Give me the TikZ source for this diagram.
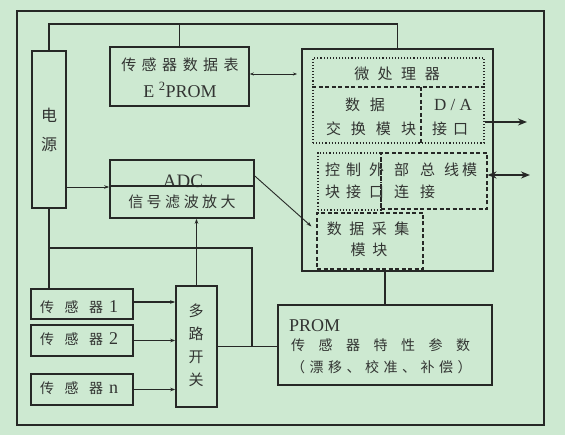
\documentclass[tikz,border=0pt]{standalone}
\usepackage{fontspec}
\setmainfont{Liberation Serif}
\newfontfamily\cjk{Noto Sans CJK SC}
\usetikzlibrary{arrows.meta,calc}
\definecolor{bg}{RGB}{205,233,209}
\definecolor{ln}{RGB}{38,40,38}
\definecolor{tx}{RGB}{50,52,50}
\newcommand\gp[1]{\hspace*{#1pt}}
\begin{document}
\begin{tikzpicture}[x=1pt,y=-1pt,
  box/.style={draw=ln,line width=1.6pt,inner sep=0pt,rectangle},
  dotbox/.style={draw=ln,line width=1.1pt,dotted,inner sep=0pt,rectangle},
  dashbox/.style={draw=ln,line width=1.1pt,dash pattern=on 4pt off 2.5pt,inner sep=0pt,rectangle},
  wire/.style={draw=ln,line width=1.5pt},
  thinwire/.style={draw=ln,line width=0.9pt},
  sarrow/.style={-{Stealth[length=5pt,width=3.5pt]}},
  barrow/.style={line width=2.6pt,-{Stealth[length=9pt,width=7pt]}},
  zh/.style={text=tx,inner sep=0pt,font=\cjk\fontsize{14}{14}\selectfont},
  en/.style={text=tx,inner sep=0pt,font=\fontsize{18}{18}\selectfont}]
\fill[bg] (0,0) rectangle (565,435);
\useasboundingbox (0,0) rectangle (565,435);
% outer frame
\draw[ln,line width=1.6pt] (17,11) rectangle (544,425);
% boxes
\node[box,minimum width=34pt,minimum height=157pt] (power) at (49,129.5) {};
\node[box,minimum width=139pt,minimum height=59pt] (eeprom) at (179.5,76.5) {};
\node[box,minimum width=144pt,minimum height=58pt] (adc) at (182,189) {};
\node[box,minimum width=41pt,minimum height=121pt] (mux) at (196.5,346.5) {};
\node[box,minimum width=102pt,minimum height=30pt] (s1) at (82,304) {};
\node[box,minimum width=102pt,minimum height=31pt] (s2) at (82,340.5) {};
\node[box,minimum width=102pt,minimum height=31pt] (sn) at (82,389.5) {};
\node[box,minimum width=214pt,minimum height=80pt] (prom) at (385,345) {};
\node[box,minimum width=191pt,minimum height=222pt] (mp) at (397.5,160) {};
\node[dotbox,minimum width=171pt,minimum height=85pt] (mpin) at (398.5,100.5) {};
\node[dotbox,minimum width=63pt,minimum height=57pt] (ctrl) at (349.5,181.5) {};
\node[dashbox,minimum width=106pt,minimum height=56pt] (busm) at (434,181) {};
\node[dashbox,minimum width=106pt,minimum height=56pt] (acq) at (370,241) {};
% inner divisions
\draw[ln,line width=1.1pt,dash pattern=on 4pt off 2.5pt] (mpin.west |- 0,87) -- (mpin.east |- 0,87);
\draw[ln,line width=1.1pt,dash pattern=on 4pt off 2.5pt] (421,87) -- (421,143);
% texts
\node[zh,font=\cjk\fontsize{15}{15}\selectfont] (t1) at (180,65) {传\gp{5.5}感\gp{5.5}器\gp{5.5}数\gp{5.5}据\gp{5.5}表};
\node[en] (t2) at (180,90) {E \textsuperscript{2}PROM};
\node[en,font=\fontsize{19}{19}\selectfont] (t3) at (183,181) {ADC};
\node[zh,font=\cjk\fontsize{15}{15}\selectfont] (t4) at (182,202) {信\gp{3.5}号\gp{3.5}滤\gp{3.5}波\gp{3.5}放\gp{3.5}大};
\node[zh,font=\cjk\fontsize{16}{16}\selectfont] (t5) at (49,115) {电};
\node[zh,font=\cjk\fontsize{16}{16}\selectfont] (t6) at (49,145) {源};
\node[zh,font=\cjk\fontsize{15}{15}\selectfont] (t7) at (397,74) {微\gp{8.5}处\gp{8.5}理\gp{8.5}器};
\node[zh,font=\cjk\fontsize{15}{15}\selectfont] (t8) at (365,105) {数\gp{10}据};
\node[zh,font=\cjk\fontsize{15}{15}\selectfont] (t9) at (371,129) {交\gp{10}换\gp{10}模\gp{10}块};
\node[en,font=\fontsize{17}{17}\selectfont] (t10) at (453,105) {D / A};
\node[zh,font=\cjk\fontsize{15}{15}\selectfont] (t11) at (450,129) {接\gp{6}口};
\node[zh,font=\cjk\fontsize{15}{15}\selectfont,anchor=west] (t12) at (325,170) {控\gp{6}制\gp{8}外\gp{10}部\gp{11}总\gp{9}线\gp{3}模};
\node[zh,font=\cjk\fontsize{15}{15}\selectfont,anchor=west] (t13) at (325,192) {块\gp{6}接\gp{8}口\gp{10}连\gp{11}接};
\node[zh,font=\cjk\fontsize{15}{15}\selectfont] (t14) at (368,229) {数\gp{7.5}据\gp{7.5}采\gp{7.5}集};
\node[zh,font=\cjk\fontsize{15}{15}\selectfont] (t15) at (369,250) {模\gp{7}块};
\node[zh,anchor=west] (t16) at (40,307) {传\gp{10.5}感\gp{10.5}器\gp{6}{\rmfamily\fontsize{18}{18}\selectfont 1}};
\node[zh,anchor=west] (t17) at (40,339) {传\gp{10.5}感\gp{10.5}器\gp{6}{\rmfamily\fontsize{18}{18}\selectfont 2}};
\node[zh,anchor=west] (t18) at (40,388) {传\gp{10.5}感\gp{10.5}器\gp{6}{\rmfamily\fontsize{18}{18}\selectfont n}};
\node[zh,font=\cjk\fontsize{15}{23}\selectfont,align=center] (t19) at (196,345) {多\\路\\开\\关};
\node[en,anchor=west] (t20) at (289,326) {PROM};
\node[zh,anchor=west] (t21) at (291,345) {传\gp{13.5}感\gp{13.5}器\gp{13.5}特\gp{13.5}性\gp{13.5}参\gp{13.5}数};
\node[zh,anchor=west] (t22) at (291,367) {（\gp{4.5}漂\gp{4.5}移\gp{4.5}、\gp{4.5}校\gp{4.5}准\gp{4.5}、\gp{4.5}补\gp{4.5}偿\gp{4.5}）};
% ADC divider drawn over text, as in the reference
\draw[ln,line width=1.3pt] (adc.west |- 0,186) -- (adc.east |- 0,186);
% connectors
\coordinate (bus) at (0,24);
\draw[wire] (power.north) -- (power.north |- bus) -| (mp.north);
\draw[wire] (eeprom.north) -- (eeprom.north |- bus);
\coordinate (eeR) at (297,74);
\draw[thinwire,{Stealth[length=4pt,width=3pt]}-{Stealth[length=4pt,width=3pt]}] (eeprom.east |- eeR) -- (eeR);
\draw[thinwire,sarrow] (power.east |- 0,187) -- (adc.west |- 0,187);
\coordinate (acqIn) at ([shift={(-5,14)}]acq.north west);
\draw[thinwire,sarrow] (adc.east |- 0,176) -- (acqIn);
\draw[wire] (power.south) -- (power.south |- s1.north);
\coordinate (j1) at (power.south |- 0,248);
\coordinate (j2) at (252,248);
\draw[wire] (j1) -- (j2) -- (j2 |- mux.east);
\draw[wire] (mux.east) -- (mux.east -| prom.west);
\draw[wire,sarrow] (mux.north) -- (mux.north |- adc.south);
\draw[wire,sarrow] (s1.east |- 0,302) -- (mux.west |- 0,302);
\draw[thinwire,sarrow] (s2.east) -- (s2.east -| mux.west);
\draw[thinwire,sarrow] (sn.east) -- (sn.east -| mux.west);
\draw[wire] (prom.north) -- (prom.north |- mp.south);
\coordinate (daEnd) at (527,122);
\draw[ln,barrow] (mpin.east |- daEnd) -- (daEnd);
\coordinate (busEnd) at (530,175);
\draw[ln,line width=2.6pt,{Stealth[length=9pt,width=7pt]}-{Stealth[length=9pt,width=7pt]}] (busm.east |- busEnd) -- (busEnd);
\end{tikzpicture}
\end{document}
